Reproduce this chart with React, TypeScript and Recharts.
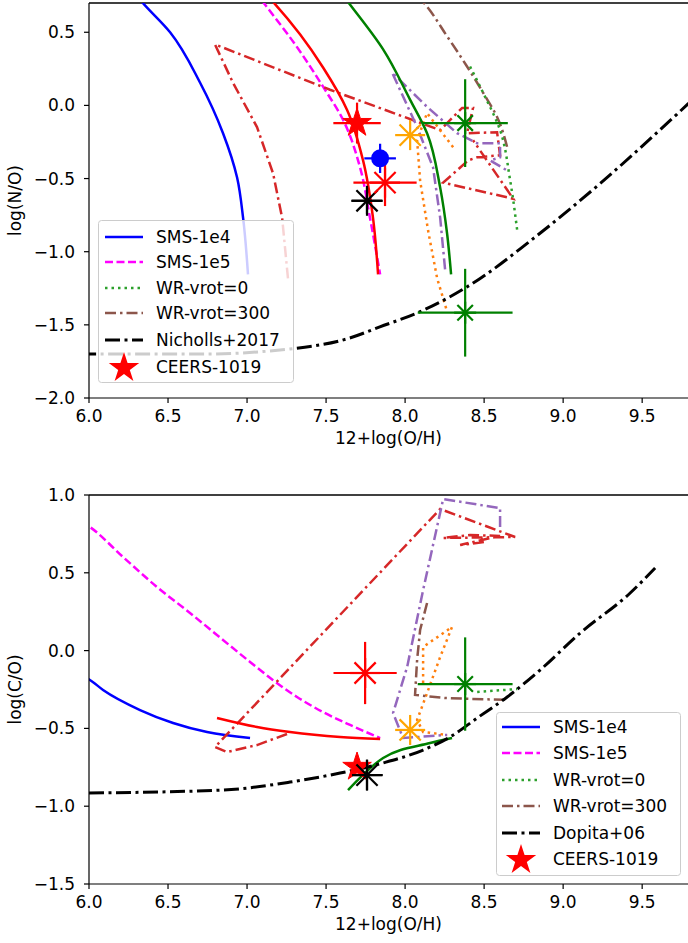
import React from 'react';
import { ComposedChart, Line, Scatter, XAxis, YAxis, ErrorBar, ReferenceLine, Legend, Label } from 'recharts';

// ---------- top panel: log(N/O) vs 12+log(O/H) ----------
const noSms1e4 = [[6.25,0.82],[6.335,0.707],[6.513,0.5],[6.703,0.155],[6.848,-0.19],[6.937,-0.493],[6.975,-0.769],[7.006,-1.155]];
const noSms1e5 = [[7.05,0.78],[7.101,0.707],[7.304,0.417],[7.481,0.128],[7.608,-0.1],[7.715,-0.424],[7.778,-0.769],[7.842,-1.155]];
const noSmsRed = [[7.12,0.76],[7.165,0.707],[7.335,0.486],[7.481,0.259],[7.633,-0.031],[7.734,-0.376],[7.797,-0.769],[7.829,-1.155]];
const noRedDashDot = [[7.259,-1.183],[7.222,-0.769],[7.165,-0.466],[7.063,-0.148],[6.911,0.155],[6.797,0.417],[7.525,0.107],[8.222,-0.169],[8.361,-0.017],[8.43,-0.017],[8.392,-0.19],[8.582,-0.183],[8.601,-0.341],[8.456,-0.355],[8.399,-0.376],[8.241,-0.528],[8.684,-0.638],[8.43,-0.238]];
const noPurple = [[8.253,-1.121],[8.222,-0.769],[8.177,-0.424],[8.076,-0.148],[7.918,0.224],[8.139,-0.01],[8.329,-0.19],[8.456,-0.259],[8.601,-0.259],[8.601,-0.355],[8.538,-0.376],[8.646,-0.445]];
const noOrange = [[8.304,-0.286],[8.139,-0.052],[8.076,-0.238],[8.095,-0.514],[8.146,-0.859],[8.203,-1.183],[8.266,-1.41]];
const noGreen = [[7.56,0.82],[7.639,0.707],[7.861,0.383],[8.032,0.038],[8.139,-0.19],[8.222,-0.562],[8.266,-0.879],[8.291,-1.155]];
const noBrown = [[8.05,0.78],[8.114,0.707],[8.266,0.472],[8.392,0.266],[8.494,0.086],[8.582,-0.079],[8.646,-0.286]];
const noGreenDot = [[8.411,0.266],[8.494,0.086],[8.601,-0.169],[8.665,-0.514],[8.709,-0.852]];
const nicholls = [[5.95,-1.70],[6.0,-1.70],[6.7,-1.70],[7.27,-1.665],[7.65,-1.59],[7.84,-1.514],[8.095,-1.41],[8.475,-1.183],[8.79,-0.928],[9.234,-0.534],[9.79,0.01],[9.85,0.07]];

const noCeers = [{ x: 7.696, y: -0.121, ex: 0.15, ey: 0.14 }];
const noBlue = [{ x: 7.842, y: -0.362, ex: 0.1, ey: 0.1 }];
const noRedAst = [{ x: 7.873, y: -0.528, ex: 0.2, ey: 0.16 }];
const noBlackAst = [{ x: 7.759, y: -0.652, ex: 0.1, ey: 0.09 }];
const noOrangeAst = [{ x: 8.032, y: -0.203 }];
const noGreenAst = [{ x: 8.38, y: -0.121, ex: 0.27, ey: 0.3 }, { x: 8.38, y: -1.417, ex: 0.3, ey: 0.3 }];

// ---------- bottom panel: log(C/O) vs 12+log(O/H) ----------
const coSms1e4 = [[5.95,-0.16],[6.006,-0.189],[6.089,-0.253],[6.323,-0.382],[6.532,-0.465],[6.747,-0.523],[7.019,-0.562]];
const coSms1e5 = [[5.95,0.83],[6.006,0.794],[6.215,0.602],[6.43,0.409],[6.639,0.242],[6.848,0.068],[7.019,-0.073],[7.165,-0.19],[7.316,-0.298],[7.481,-0.395],[7.652,-0.478],[7.842,-0.562]];
const coSmsRed = [[6.81,-0.433],[7.063,-0.491],[7.272,-0.523],[7.589,-0.555],[7.842,-0.568]];
const coRedDashDot = [[7.253,-0.536],[7.063,-0.607],[6.873,-0.652],[6.797,-0.62],[8.222,0.91],[8.696,0.73],[8.241,0.724],[8.411,0.743],[8.601,0.737],[8.348,0.679],[8.506,0.698]];
const coPurple = [[8.601,0.794],[8.601,0.916],[8.475,0.936],[8.241,0.974],[8.114,0.389],[8.013,-0.105],[7.924,-0.401],[7.987,-0.562],[8.266,-0.542]];
const coBrown = [[8.139,0.306],[8.095,0.132],[8.076,-0.06],[8.063,-0.285],[8.253,-0.305],[8.646,-0.317]];
const coOrange = [[8.114,-0.208],[8.114,0.023],[8.297,0.152],[8.222,-0.041],[8.139,-0.273],[8.076,-0.446],[8.114,-0.523],[8.266,-0.542]];
const coGreenDot = [[8.456,-0.266],[8.709,-0.247]];
const coGreen = [[7.639,-0.896],[7.861,-0.69],[8.158,-0.594],[8.297,-0.562]];
const dopita = [[6.0,-0.915],[6.848,-0.896],[7.272,-0.845],[7.589,-0.787],[7.861,-0.722],[8.114,-0.639],[8.285,-0.555],[8.456,-0.433],[8.646,-0.298],[8.854,-0.125],[9.108,0.113],[9.424,0.37],[9.582,0.531]];

const coCeers = [{ x: 7.696, y: -0.748 }];
const coBlackAst = [{ x: 7.759, y: -0.8, ex: 0.1, ey: 0.1 }];
const coRedAst = [{ x: 7.747, y: -0.144, ex: 0.2, ey: 0.2 }];
const coOrangeAst = [{ x: 8.032, y: -0.51 }];
const coGreenAst = [{ x: 8.38, y: -0.215, ex: 0.3, ey: 0.3 }];

const xTicks = [6.0, 6.5, 7.0, 7.5, 8.0, 8.5, 9.0, 9.5];
const noTicks = [-2.0, -1.5, -1.0, -0.5, 0.0, 0.5];
const coTicks = [-1.5, -1.0, -0.5, 0.0, 0.5, 1.0];
const topLegendLabels = ['SMS-1e4', 'SMS-1e5', 'WR-vrot=0', 'WR-vrot=300', 'Nicholls+2017', 'CEERS-1019'];
const bottomLegendLabels = ['SMS-1e4', 'SMS-1e5', 'WR-vrot=0', 'WR-vrot=300', 'Dopita+06', 'CEERS-1019'];

const FONT = 'DejaVu Sans, sans-serif';
const FS = 17;
const LW = 2.5;
const DASHDOT = '11 4 2.5 4';
const DASHED = '8 3.5';
const DOTTED = '2.5 4';
const BLACKDD = '15 4.5 3 4.5';
const toPts = (a: number[][]) => a.map(([x, y]) => ({ x, y }));
const fmt = (v: number) => (v < 0 ? '\u2212' + Math.abs(v).toFixed(1) : v.toFixed(1));

const Asterisk = ({ cx, cy, r, color }: any) => {
  const d = r * 0.7071;
  return (
    <g stroke={color} strokeWidth={2.2}>
      <line x1={cx - r} y1={cy} x2={cx + r} y2={cy} />
      <line x1={cx} y1={cy - r} x2={cx} y2={cy + r} />
      <line x1={cx - d} y1={cy - d} x2={cx + d} y2={cy + d} />
      <line x1={cx - d} y1={cy + d} x2={cx + d} y2={cy - d} />
    </g>
  );
};

const starPoints = (cx: number, cy: number, R: number) => {
  const p: string[] = [];
  for (let i = 0; i < 10; i++) {
    const a = (-90 + i * 36) * Math.PI / 180;
    const rr = i % 2 === 0 ? R : R * 0.382;
    p.push(`${cx + rr * Math.cos(a)},${cy + rr * Math.sin(a)}`);
  }
  return p.join(' ');
};
const Star = ({ cx, cy, R }: any) => <polygon points={starPoints(cx, cy, R)} fill="#ff0000" stroke="#ff0000" strokeWidth={1} />;

type Entry = { label: string; kind: 'line' | 'star'; color?: string; dash?: string; width?: number };

const makeLegend = (labels: string[], w: number, h: number, rowY: number[], iconX: number, textX: number) => {
  const entries: Entry[] = [
    { label: labels[0], kind: 'line', color: '#0000ff' },
    { label: labels[1], kind: 'line', color: '#ff00ff', dash: DASHED },
    { label: labels[2], kind: 'line', color: '#2ca02c', dash: DOTTED },
    { label: labels[3], kind: 'line', color: '#8c564b', dash: DASHDOT },
    { label: labels[4], kind: 'line', color: '#000000', dash: BLACKDD, width: 3 },
    { label: labels[5], kind: 'star' },
  ];
  return () => (
    <svg width={w} height={h} style={{ display: 'block' }}>
      <rect x={0.5} y={0.5} width={w - 1} height={h - 1} rx={3} fill="rgba(255,255,255,0.8)" stroke="#cccccc" />
      {entries.map((e, i) => (
        <g key={i}>
          {e.kind === 'line' ? (
            <line x1={iconX} x2={iconX + 38} y1={rowY[i]} y2={rowY[i]} stroke={e.color} strokeWidth={e.width || LW} strokeDasharray={e.dash} />
          ) : (
            <polygon points={starPoints(iconX + 19, rowY[i] + 1, 16)} fill="#ff0000" />
          )}
          <text x={textX} y={rowY[i]} dy="0.36em" fontSize={FS} fontFamily={FONT} fill="#000">{e.label}</text>
        </g>
      ))}
    </svg>
  );
};

const XTitle = (props: any) => {
  const vb = props.viewBox || {};
  return <text x={vb.x + vb.width / 2} y={vb.y + 46} textAnchor="middle" fontSize={FS} fontFamily={FONT} fill="#000">12+log(O/H)</text>;
};
const makeYTitle = (t: string) => (props: any) => {
  const vb = props.viewBox || {};
  const cy = vb.y + vb.height / 2;
  return <text x={21} y={cy} transform={`rotate(-90 21 ${cy})`} textAnchor="middle" fontSize={FS} fontFamily={FONT} fill="#000">{t}</text>;
};

const tickStyle = { fill: '#000', fontSize: FS, fontFamily: FONT };
const axisLineStyle = { stroke: '#000', strokeWidth: 1.2 };

const curve = (key: string, data: number[][], color: string, dash?: string, width = LW, type: any = 'linear') => (
  <Line key={key} data={toPts(data)} dataKey="y" type={type} stroke={color} strokeWidth={width} strokeDasharray={dash} dot={false} activeDot={false} isAnimationActive={false} legendType="none" />
);

const errBars = (color: string) => [
  <ErrorBar key="ex" dataKey="ex" direction="x" width={0} stroke={color} strokeWidth={2.2} />,
  <ErrorBar key="ey" dataKey="ey" direction="y" width={0} stroke={color} strokeWidth={2.2} />,
];

export default function App() {
  const W = 688;
  return (
    <div style={{ position: 'absolute', left: 0, top: 0, width: 688, height: 943, background: '#fff', fontFamily: FONT }}>
      <div style={{ position: 'absolute', left: 0, top: 0 }}>
        <ComposedChart width={W} height={465} margin={{ top: 3, right: 0, left: 0, bottom: 20 }}>
          <XAxis dataKey="x" type="number" domain={[6, 9.79]} ticks={xTicks} allowDataOverflow height={47} tickSize={5} tickMargin={7} tick={tickStyle} tickFormatter={fmt} axisLine={axisLineStyle} tickLine={axisLineStyle}>
            <Label content={XTitle} />
          </XAxis>
          <YAxis dataKey="y" type="number" domain={[-2.0, 0.7]} ticks={noTicks} allowDataOverflow width={89} tickSize={5} tickMargin={9} tick={tickStyle} tickFormatter={fmt} axisLine={axisLineStyle} tickLine={axisLineStyle}>
            <Label content={makeYTitle('log(N/O)')} />
          </YAxis>
          <ReferenceLine y={0.7} stroke="#000" strokeWidth={1.5} ifOverflow="visible" />
          {curve('a', noSms1e4, '#0000ff', undefined, LW, 'monotoneY')}
          {curve('b', noSms1e5, '#ff00ff', DASHED, LW, 'monotoneY')}
          {curve('c', noRedDashDot, '#d62728', DASHDOT)}
          {curve('d', noPurple, '#9467bd', DASHDOT)}
          {curve('e', noOrange, '#ff7f0e', DOTTED)}
          {curve('f', noGreen, '#008000', undefined, LW, 'monotoneY')}
          {curve('g', noBrown, '#8c564b', DASHDOT, LW, 'monotoneY')}
          {curve('h', noGreenDot, '#2ca02c', DOTTED, LW, 'monotoneY')}
          {curve('i', noSmsRed, '#ff0000', undefined, LW, 'monotoneY')}
          {curve('j', nicholls, '#000000', BLACKDD, 3, 'monotoneX')}
          <Scatter data={noBlackAst} dataKey="y" isAnimationActive={false} shape={(p: any) => <Asterisk cx={p.cx} cy={p.cy} r={15} color="#000" />}>
            {errBars('#000')}
          </Scatter>
          <Scatter data={noRedAst} dataKey="y" isAnimationActive={false} shape={(p: any) => <Asterisk cx={p.cx} cy={p.cy} r={15} color="#ff0000" />}>
            {errBars('#ff0000')}
          </Scatter>
          <Scatter data={noBlue} dataKey="y" isAnimationActive={false} shape={(p: any) => <circle cx={p.cx} cy={p.cy} r={9} fill="#0000ff" />}>
            {errBars('#0000ff')}
          </Scatter>
          <Scatter data={noOrangeAst} dataKey="y" isAnimationActive={false} shape={(p: any) => <Asterisk cx={p.cx} cy={p.cy} r={15} color="#ffa500" />} />
          <Scatter data={noGreenAst} dataKey="y" isAnimationActive={false} shape={(p: any) => <Asterisk cx={p.cx} cy={p.cy} r={11} color="#008000" />}>
            {errBars('#008000')}
          </Scatter>
          <Scatter data={noCeers} dataKey="y" isAnimationActive={false} shape={(p: any) => <Star cx={p.cx} cy={p.cy} R={15} />}>
            {errBars('#ff0000')}
          </Scatter>
          <Legend layout="vertical" align="center" verticalAlign="middle" wrapperStyle={{ left: 98, top: 220, width: 196, height: 163 }} content={makeLegend(topLegendLabels, 196, 163, [17, 42, 68, 93, 120, 147], 7, 58)} />
        </ComposedChart>
      </div>
      <div style={{ position: 'absolute', left: 0, top: 470 }}>
        <ComposedChart width={W} height={473} margin={{ top: 25, right: 0, left: 0, bottom: 12 }}>
          <XAxis dataKey="x" type="number" domain={[6, 9.79]} ticks={xTicks} allowDataOverflow height={47} tickSize={5} tickMargin={7} tick={tickStyle} tickFormatter={fmt} axisLine={axisLineStyle} tickLine={axisLineStyle}>
            <Label content={XTitle} />
          </XAxis>
          <YAxis dataKey="y" type="number" domain={[-1.5, 1.0]} ticks={coTicks} allowDataOverflow width={89} tickSize={5} tickMargin={9} tick={tickStyle} tickFormatter={fmt} axisLine={axisLineStyle} tickLine={axisLineStyle}>
            <Label content={makeYTitle('log(C/O)')} />
          </YAxis>
          <ReferenceLine y={1.0} stroke="#000" strokeWidth={1.5} ifOverflow="visible" />
          {curve('a', coSms1e4, '#0000ff', undefined, LW, 'monotoneX')}
          {curve('b', coSms1e5, '#ff00ff', DASHED, LW, 'monotoneX')}
          {curve('c', coRedDashDot, '#d62728', DASHDOT)}
          {curve('d', coPurple, '#9467bd', DASHDOT)}
          {curve('e', coOrange, '#ff7f0e', DOTTED)}
          {curve('f', coGreen, '#008000', undefined, LW, 'monotoneX')}
          {curve('g', coBrown, '#8c564b', DASHDOT)}
          {curve('h', coGreenDot, '#2ca02c', DOTTED)}
          {curve('i', coSmsRed, '#ff0000', undefined, LW, 'monotoneX')}
          {curve('j', dopita, '#000000', BLACKDD, 3, 'monotoneX')}
          <Scatter data={coRedAst} dataKey="y" isAnimationActive={false} shape={(p: any) => <Asterisk cx={p.cx} cy={p.cy} r={15} color="#ff0000" />}>
            {errBars('#ff0000')}
          </Scatter>
          <Scatter data={coOrangeAst} dataKey="y" isAnimationActive={false} shape={(p: any) => <Asterisk cx={p.cx} cy={p.cy} r={15} color="#ffa500" />} />
          <Scatter data={coGreenAst} dataKey="y" isAnimationActive={false} shape={(p: any) => <Asterisk cx={p.cx} cy={p.cy} r={11} color="#008000" />}>
            {errBars('#008000')}
          </Scatter>
          <Scatter data={coCeers} dataKey="y" isAnimationActive={false} shape={(p: any) => <Star cx={p.cx} cy={p.cy} R={15} />} />
          <Scatter data={coBlackAst} dataKey="y" isAnimationActive={false} shape={(p: any) => <Asterisk cx={p.cx} cy={p.cy} r={15} color="#000" />}>
            {errBars('#000')}
          </Scatter>
          <Legend layout="vertical" align="center" verticalAlign="middle" wrapperStyle={{ left: 496, top: 242, width: 185, height: 164 }} content={makeLegend(bottomLegendLabels, 185, 164, [15, 41, 68, 94, 121, 147], 6, 57)} />
        </ComposedChart>
      </div>
    </div>
  );
}
